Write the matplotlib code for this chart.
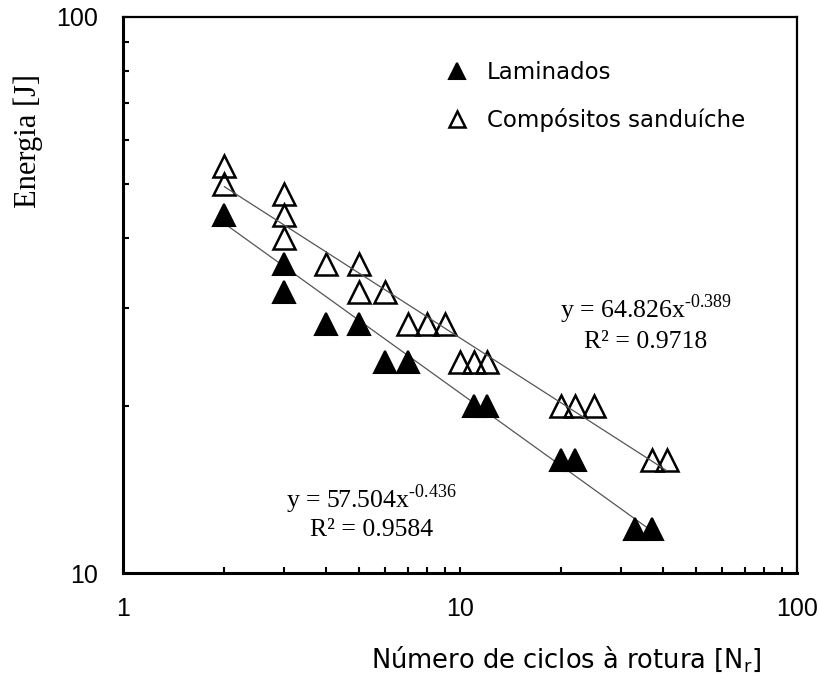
import numpy as np
import matplotlib
matplotlib.use('Agg')
import matplotlib.pyplot as plt
from matplotlib.ticker import LogLocator, NullFormatter, FixedLocator, FixedFormatter

# data
lam_x = [2, 3, 3, 4, 5, 6, 7, 11, 12, 20, 22, 33, 37]
lam_y = [44, 36, 32, 28, 28, 24, 24, 20, 20, 16, 16, 12, 12]
comp_x = [2, 2, 3, 3, 3, 4, 5, 5, 6, 7, 8, 9, 10, 11, 12, 20, 22, 25, 37, 41]
comp_y = [54, 50, 48, 44, 40, 36, 36, 32, 32, 28, 28, 28, 24, 24, 24, 20, 20, 20, 16, 16]

# power trend lines as printed on the chart
lam_fit = (57.504, -0.436, 0.9584)
comp_fit = (64.826, -0.389, 0.9718)

plt.rcParams['mathtext.fontset'] = 'custom'
plt.rcParams['mathtext.rm'] = 'Liberation Serif'

fig = plt.figure(figsize=(8.2, 6.75), dpi=100)
ax = fig.add_axes([0.15, 0.151, 0.822, 0.824])

# trend lines
xl = np.logspace(np.log10(min(lam_x)), np.log10(max(lam_x)), 100)
ax.plot(xl, lam_fit[0] * xl ** lam_fit[1], color='#555555', lw=0.9, zorder=1)
xc = np.logspace(np.log10(min(comp_x)), np.log10(max(comp_x)), 100)
ax.plot(xc, comp_fit[0] * xc ** comp_fit[1], color='#555555', lw=0.9, zorder=3)

ax.plot(lam_x, lam_y, ls='none', marker='^', ms=16.5, mfc='black', mec='black',
        mew=1.5, zorder=2, label='Laminados')
ax.plot(comp_x, comp_y, ls='none', marker='^', ms=16, mfc='none', mec='black',
        mew=1.8, zorder=2, label='Compósitos sanduíche')

ax.set_xscale('log')
ax.set_yscale('log')
ax.set_xlim(1, 100)
ax.set_ylim(10, 100)

ax.xaxis.set_major_locator(FixedLocator([1, 10, 100]))
ax.xaxis.set_major_formatter(FixedFormatter(['1', '10', '100']))
ax.yaxis.set_major_locator(FixedLocator([10, 100]))
ax.yaxis.set_major_formatter(FixedFormatter(['10', '100']))
ax.xaxis.set_minor_locator(LogLocator(base=10, subs=np.arange(2, 10)))
ax.yaxis.set_minor_locator(LogLocator(base=10, subs=np.arange(2, 10)))
ax.xaxis.set_minor_formatter(NullFormatter())
ax.yaxis.set_minor_formatter(NullFormatter())

ax.tick_params(which='both', direction='in', length=4, width=1.5,
               top=False, right=False)
ax.tick_params(axis='x', which='major', pad=17)
ax.tick_params(axis='y', which='major', pad=18)
for lab in ax.get_xticklabels() + ax.get_yticklabels():
    lab.set_fontfamily('Liberation Sans')
    lab.set_fontsize(18)

ax.spines['left'].set_linewidth(2.2)
ax.spines['bottom'].set_linewidth(2.2)
ax.spines['top'].set_linewidth(1.6)
ax.spines['right'].set_linewidth(1.6)

ax.set_xlabel('Número de ciclos à rotura [N$_\\mathregular{r}$]',
              fontfamily='DejaVu Sans', fontsize=18.5)
ax.xaxis.set_label_coords(0.657, -0.128)
ax.set_ylabel('Energia [J]', fontfamily='Liberation Serif', fontsize=22)
ax.yaxis.set_label_coords(-0.118, 0.777)

leg = ax.legend(loc='upper left', bbox_to_anchor=(0.448, 0.957), frameon=False,
                handlelength=1.0, handletextpad=0.8, labelspacing=1.05,
                markerscale=0.7, prop={'family': 'DejaVu Sans', 'size': 16.5})

# equations
eq_style = dict(transform=ax.transAxes, ha='center', va='baseline',
                fontfamily='Liberation Serif', fontsize=18.5)
ax.text(0.776, 0.458, 'y = %.3fx$^{\u2010%.3f}$' % (comp_fit[0], -comp_fit[1]), **eq_style)
ax.text(0.776, 0.404, 'R² = %.4f' % comp_fit[2], **eq_style)
ax.text(0.369, 0.117, 'y = %.3fx$^{\u2010%.3f}$' % (lam_fit[0], -lam_fit[1]), **eq_style)
ax.text(0.369, 0.066, 'R² = %.4f' % lam_fit[2], **eq_style)

fig.savefig('out.png', dpi=100)
